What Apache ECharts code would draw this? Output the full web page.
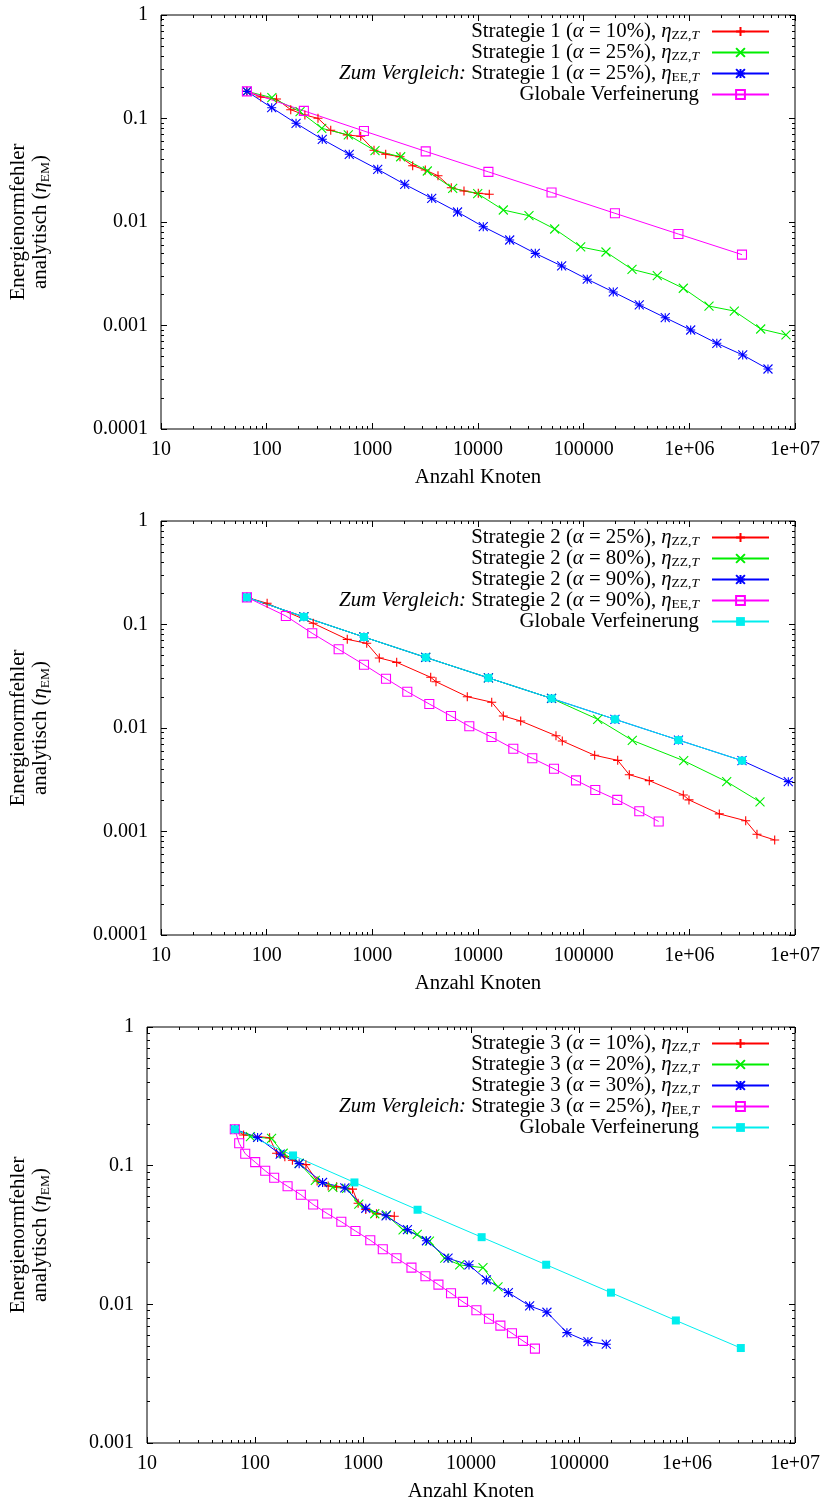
<!DOCTYPE html>
<html><head><meta charset="utf-8">
<script src="https://cdn.jsdelivr.net/npm/echarts@6/dist/echarts.min.js"></script>
<style>html,body{margin:0;padding:0;background:#fff}#c{width:827px;height:1504px}</style>
</head><body><div id="c"></div>
<script>
// ---------- tick labels ----------
const xTickValues = [10, 100, 1000, 10000, 100000, 1e6, 1e7];
const xTickLabels = ['10', '100', '1000', '10000', '100000', '1e+06', '1e+07'];
const yTickValuesA = [1e-4, 1e-3, 1e-2, 1e-1, 1];
const yTickLabelsA = ['0.0001', '0.001', '0.01', '0.1', '1'];
const yTickValuesB = [1e-3, 1e-2, 1e-1, 1];
const yTickLabelsB = ['0.001', '0.01', '0.1', '1'];

// ---------- global refinement (all charts) ----------
const globalN = [65, 225, 833, 3201, 12545, 49665, 197633, 788481, 3149825];
const globalE = [0.183, 0.1185, 0.0757, 0.0481, 0.0305, 0.0193, 0.01214, 0.00765, 0.00484];

// ---------- chart 1 ----------
const s1a10N = [65, 87.8, 124, 169, 230, 306, 404, 579, 776, 1037, 1338, 1827, 2409, 3171, 4182, 5588, 7369, 10065, 12790];
const s1a10E = [0.183, 0.1613, 0.1543, 0.1216, 0.1081, 0.1004, 0.0769, 0.0693, 0.0673, 0.0493, 0.0451, 0.0427, 0.035, 0.0318, 0.028, 0.02145, 0.01993, 0.01894, 0.01852];
const s1a25N = [65, 112, 207, 332, 592, 1060, 1855, 3312, 5761, 9934, 17360, 30370, 53180, 93720, 162600, 286700, 497500, 876900, 1535000, 2664000, 4736000, 8216000];
const s1a25E = [0.183, 0.1589, 0.1163, 0.0804, 0.0693, 0.0489, 0.0427, 0.0311, 0.02117, 0.01877, 0.01306, 0.0115, 0.00856, 0.00574, 0.00513, 0.00349, 0.00303, 0.00229, 0.00154, 0.00138, 0.000925, 0.00081];
const s1eeN = [65, 111.6, 189.7, 336, 605, 1124, 2025, 3647, 6400, 11220, 19950, 34850, 61900, 108100, 190600, 335900, 591600, 1030000, 1820000, 3200000, 5550000];
const s1eeE = [0.183, 0.1272, 0.0899, 0.063, 0.0451, 0.0323, 0.02313, 0.01694, 0.01249, 0.00901, 0.0067, 0.00498, 0.00376, 0.0028, 0.00211, 0.00158, 0.00119, 0.000905, 0.000673, 0.000519, 0.00038];

// ---------- chart 2 ----------
const s2a25N = [65, 101, 276, 579, 885, 1164, 1700, 3567, 4003, 7918, 13480, 17360, 25350, 54700, 62770, 127100, 209900, 270300, 417800, 876900, 992400, 1921000, 3415000, 4367000, 6424000];
const s2a25E = [0.183, 0.1603, 0.1027, 0.0719, 0.0658, 0.0475, 0.0431, 0.0309, 0.028, 0.02007, 0.01776, 0.01306, 0.01168, 0.00843, 0.00749, 0.00545, 0.00487, 0.00354, 0.0031, 0.00225, 0.00202, 0.00148, 0.00127, 0.00094, 0.000828];
const s2a80N = [65, 225, 833, 3201, 12545, 49665, 135700, 288500, 884400, 2257000, 4663000];
const s2a80E = [0.183, 0.1185, 0.0757, 0.0481, 0.0305, 0.0193, 0.01214, 0.0076, 0.00483, 0.00303, 0.00193];
const s2a90N = [65, 225, 833, 3201, 12545, 49665, 197633, 788481, 3149825, 8640000];
const s2a90E = [0.183, 0.1185, 0.0757, 0.0481, 0.0305, 0.0193, 0.01214, 0.00765, 0.00484, 0.00303];
const s2eeN = [65, 152, 270, 480, 834, 1347, 2142, 3460, 5551, 8273, 13420, 21580, 32650, 52380, 84600, 128800, 208000, 336000, 512900];
const s2eeE = [0.183, 0.1208, 0.0822, 0.0576, 0.0409, 0.02995, 0.02243, 0.01706, 0.01306, 0.01039, 0.00818, 0.00631, 0.0051, 0.00404, 0.00312, 0.00252, 0.00202, 0.00157, 0.00125];

// ---------- chart 3 ----------
const s3a10N = [65, 78.4, 136.5, 158.4, 189, 222, 296, 376, 476, 569, 800, 901, 1061, 1333, 1948];
const s3a10E = [0.183, 0.1665, 0.1591, 0.1229, 0.1161, 0.1094, 0.1017, 0.0776, 0.0714, 0.0706, 0.0677, 0.0536, 0.0483, 0.045, 0.0432];
const s3a20N = [65, 90.7, 142.4, 182.4, 256.4, 362, 525.6, 703.8, 914.3, 1286, 1650, 2350, 3180, 4123, 5710, 7862, 12910, 17780];
const s3a20E = [0.183, 0.1618, 0.1571, 0.1229, 0.1041, 0.0782, 0.0697, 0.0687, 0.0528, 0.045, 0.0441, 0.0344, 0.0319, 0.02855, 0.0215, 0.01924, 0.01839, 0.01335];
const s3a30N = [65, 105.7, 171.1, 256.4, 422.1, 678.7, 1061, 1636, 2580, 3868, 6126, 9583, 13880, 22180, 34910, 50480, 77300, 120900, 178900];
const s3a30E = [0.183, 0.1597, 0.121, 0.1034, 0.0756, 0.0691, 0.0493, 0.0435, 0.0346, 0.02874, 0.0215, 0.01924, 0.015, 0.01215, 0.00974, 0.00877, 0.00625, 0.00538, 0.00516];
const s3eeN = [65, 71.4, 81.2, 100.4, 124.3, 150.5, 200.3, 265.8, 345.5, 465.5, 630, 852, 1168, 1525, 2041, 2810, 3787, 4995, 6531, 8433, 11220, 14670, 18710, 23950, 30280, 39080];
const s3eeE = [0.183, 0.145, 0.122, 0.106, 0.0919, 0.0819, 0.071, 0.0617, 0.0525, 0.0452, 0.0394, 0.0338, 0.029, 0.02496, 0.0215, 0.01839, 0.01594, 0.01387, 0.01202, 0.01041, 0.00907, 0.00788, 0.00702, 0.00619, 0.00545, 0.00479];

// ---------- legend texts ----------
const LEG = {
  c1a10: '{t|Strategie 1 (}{i|α}{t| = 10%), }{i|η}{s|ZZ,}{si|T}',
  c1a25: '{t|Strategie 1 (}{i|α}{t| = 25%), }{i|η}{s|ZZ,}{si|T}',
  c1ee:  '{i|Zum Vergleich:}{t| Strategie 1 (}{i|α}{t| = 25%), }{i|η}{s|EE,}{si|T}',
  c1g:   '{t|Globale Verfeinerung}',
  c2a25: '{t|Strategie 2 (}{i|α}{t| = 25%), }{i|η}{s|ZZ,}{si|T}',
  c2a80: '{t|Strategie 2 (}{i|α}{t| = 80%), }{i|η}{s|ZZ,}{si|T}',
  c2a90: '{t|Strategie 2 (}{i|α}{t| = 90%), }{i|η}{s|ZZ,}{si|T}',
  c2ee:  '{i|Zum Vergleich:}{t| Strategie 2 (}{i|α}{t| = 90%), }{i|η}{s|EE,}{si|T}',
  c2g:   '{t|Globale Verfeinerung}',
  c3a10: '{t|Strategie 3 (}{i|α}{t| = 10%), }{i|η}{s|ZZ,}{si|T}',
  c3a20: '{t|Strategie 3 (}{i|α}{t| = 20%), }{i|η}{s|ZZ,}{si|T}',
  c3a30: '{t|Strategie 3 (}{i|α}{t| = 30%), }{i|η}{s|ZZ,}{si|T}',
  c3ee:  '{i|Zum Vergleich:}{t| Strategie 3 (}{i|α}{t| = 25%), }{i|η}{s|EE,}{si|T}',
  c3g:   '{t|Globale Verfeinerung}'
};

const FONT = '"Liberation Serif", "DejaVu Serif", serif';
const LFS = 20.8;   // legend font size
const TFS = 20;     // tick label font size
const zip = (n, e) => n.map((v, i) => [v, e[i]]);
const SYM = {
  plus: 'path://M0,5L10,5M5,0L5,10',
  cross: 'path://M0,0L10,10M10,0L0,10',
  star: 'path://M0,5L10,5M5,0L5,10M0,0L10,10M10,0L0,10',
  box: 'path://M0,0L10,0L10,10L0,10Z',
  fbox: 'rect'
};
const RED = '#ff0000', GREEN = '#00ee00', BLUE = '#0000ff', MAG = '#ff00ff', CYAN = '#00eeee';

function minorTicks(lo, hi) {
  const out = [];
  for (let p = lo; p < hi; p++) for (let k = 2; k <= 9; k++) out.push(Number((k * Math.pow(10, p)).toPrecision(3)));
  return out;
}
const xMinor = minorTicks(1, 7);
const yMinorA = minorTicks(-4, 0);
const yMinorB = minorTicks(-3, 0);

const GRIDS = [
  {left: 161, top: 15, width: 634, height: 414},
  {left: 161, top: 521, width: 634, height: 414},
  {left: 147, top: 1027, width: 648, height: 416}
];

function ser(key, g, n, e, color, sym) {
  const filled = sym === 'fbox';
  return {
    name: key, type: 'line', xAxisIndex: g * 4, yAxisIndex: g * 4,
    data: zip(n, e), symbol: SYM[sym], symbolSize: filled ? 8 : 9,
    lineStyle: {color: color, width: 1},
    itemStyle: {color: filled ? color : 'rgba(0,0,0,0)', borderColor: color, borderWidth: filled ? 0 : 1.1},
    emphasis: {disabled: true}, silent: true, animation: false
  };
}

const tickStyle = {color: '#000', width: 1};
function xAxes(g) {
  const base = {gridIndex: g, type: 'log', logBase: 10, min: 10, max: 1e7, splitLine: {show: false},
    axisLine: {show: false, onZero: false}, silent: true};
  return [
    Object.assign({}, base, {position: 'bottom',
      axisTick: {show: true, inside: true, length: 6, customValues: xTickValues, lineStyle: tickStyle},
      axisLabel: {show: true, customValues: xTickValues, margin: 11, fontFamily: FONT, fontSize: TFS, color: '#000',
        formatter: v => xTickLabels[Math.round(Math.log10(v)) - 1]},
      name: 'Anzahl Knoten', nameLocation: 'middle', nameGap: 38,
      nameTextStyle: {fontFamily: FONT, fontSize: LFS, color: '#000'}}),
    Object.assign({}, base, {position: 'bottom', axisLabel: {show: false},
      axisTick: {show: true, inside: true, length: 3, customValues: xMinor, lineStyle: tickStyle}}),
    Object.assign({}, base, {position: 'top', axisLabel: {show: false},
      axisTick: {show: true, inside: true, length: 6, customValues: xTickValues, lineStyle: tickStyle}}),
    Object.assign({}, base, {position: 'top', axisLabel: {show: false},
      axisTick: {show: true, inside: true, length: 3, customValues: xMinor, lineStyle: tickStyle}})
  ];
}
const yName = '{n|Energienormfehler}\n{n|analytisch (}{ni|η}{ns|EM}{n|)}';
function yAxes(g, vals, labels, minor, gap) {
  const base = {gridIndex: g, type: 'log', logBase: 10, min: vals[0], max: 1, splitLine: {show: false},
    axisLine: {show: false, onZero: false}, silent: true};
  const off = Math.round(-Math.log10(vals[0]));
  return [
    Object.assign({}, base, {position: 'left',
      axisTick: {show: true, inside: true, length: 6, customValues: vals, lineStyle: tickStyle},
      axisLabel: {show: true, customValues: vals, margin: 13, fontFamily: FONT, fontSize: TFS, color: '#000',
        formatter: v => labels[Math.round(Math.log10(v)) + off]},
      name: yName, nameLocation: 'middle', nameGap: gap, nameRotate: 90,
      nameTextStyle: {fontFamily: FONT, fontSize: LFS, color: '#000', lineHeight: 22,
        rich: {
          n: {fontFamily: FONT, fontSize: LFS, lineHeight: 22, color: '#000'},
          ni: {fontFamily: FONT, fontSize: LFS, lineHeight: 22, fontStyle: 'italic', color: '#000'},
          ns: {fontFamily: FONT, fontSize: 13.5, lineHeight: 11, verticalAlign: 'bottom', color: '#000'}
        }}}),
    Object.assign({}, base, {position: 'left', axisLabel: {show: false},
      axisTick: {show: true, inside: true, length: 3, customValues: minor, lineStyle: tickStyle}}),
    Object.assign({}, base, {position: 'right', axisLabel: {show: false},
      axisTick: {show: true, inside: true, length: 6, customValues: vals, lineStyle: tickStyle}}),
    Object.assign({}, base, {position: 'right', axisLabel: {show: false},
      axisTick: {show: true, inside: true, length: 3, customValues: minor, lineStyle: tickStyle}})
  ];
}

const richLeg = {
  t: {fontFamily: FONT, fontSize: LFS, lineHeight: 21, color: '#000'},
  i: {fontFamily: FONT, fontSize: LFS, lineHeight: 21, fontStyle: 'italic', color: '#000'},
  s: {fontFamily: FONT, fontSize: 13.5, lineHeight: 10, verticalAlign: 'bottom', color: '#000'},
  si: {fontFamily: FONT, fontSize: 13.5, lineHeight: 10, fontStyle: 'italic', verticalAlign: 'bottom', color: '#000'}
};
function legend(names, top) {
  return {
    data: names, orient: 'vertical', align: 'right', right: 57, top: top,
    itemWidth: 57, itemHeight: 11, itemGap: 0, padding: 0, selectedMode: false,
    formatter: n => LEG[n],
    textStyle: {fontFamily: FONT, fontSize: LFS, lineHeight: 21, color: '#000', padding: [0, 8, 0, 0], rich: richLeg}
  };
}

const option = {
  backgroundColor: '#fff',
  animation: false,
  textStyle: {fontFamily: FONT},
  grid: GRIDS.map(g => Object.assign({}, g, {show: true, borderColor: '#000', borderWidth: 1,
    backgroundColor: 'rgba(0,0,0,0)', containLabel: false, outerBoundsMode: 'none'})),
  xAxis: [].concat(xAxes(0), xAxes(1), xAxes(2)),
  yAxis: [].concat(yAxes(0, yTickValuesA, yTickLabelsA, yMinorA, 109),
                   yAxes(1, yTickValuesA, yTickLabelsA, yMinorA, 109),
                   yAxes(2, yTickValuesB, yTickLabelsB, yMinorB, 95)),
  legend: [
    legend(['c1a10', 'c1a25', 'c1ee', 'c1g'], 21),
    legend(['c2a25', 'c2a80', 'c2a90', 'c2ee', 'c2g'], 527),
    legend(['c3a10', 'c3a20', 'c3a30', 'c3ee', 'c3g'], 1033)
  ],
  series: [
    ser('c1a10', 0, s1a10N, s1a10E, RED, 'plus'),
    ser('c1a25', 0, s1a25N, s1a25E, GREEN, 'cross'),
    ser('c1ee', 0, s1eeN, s1eeE, BLUE, 'star'),
    ser('c1g', 0, globalN, globalE, MAG, 'box'),
    ser('c2a25', 1, s2a25N, s2a25E, RED, 'plus'),
    ser('c2a80', 1, s2a80N, s2a80E, GREEN, 'cross'),
    ser('c2a90', 1, s2a90N, s2a90E, BLUE, 'star'),
    ser('c2ee', 1, s2eeN, s2eeE, MAG, 'box'),
    ser('c2g', 1, globalN, globalE, CYAN, 'fbox'),
    ser('c3a10', 2, s3a10N, s3a10E, RED, 'plus'),
    ser('c3a20', 2, s3a20N, s3a20E, GREEN, 'cross'),
    ser('c3a30', 2, s3a30N, s3a30E, BLUE, 'star'),
    ser('c3ee', 2, s3eeN, s3eeE, MAG, 'box'),
    ser('c3g', 2, globalN, globalE, CYAN, 'fbox')
  ]
};
const chart = echarts.init(document.getElementById('c'), null, {renderer: 'canvas'});
chart.setOption(option);
</script></body></html>
